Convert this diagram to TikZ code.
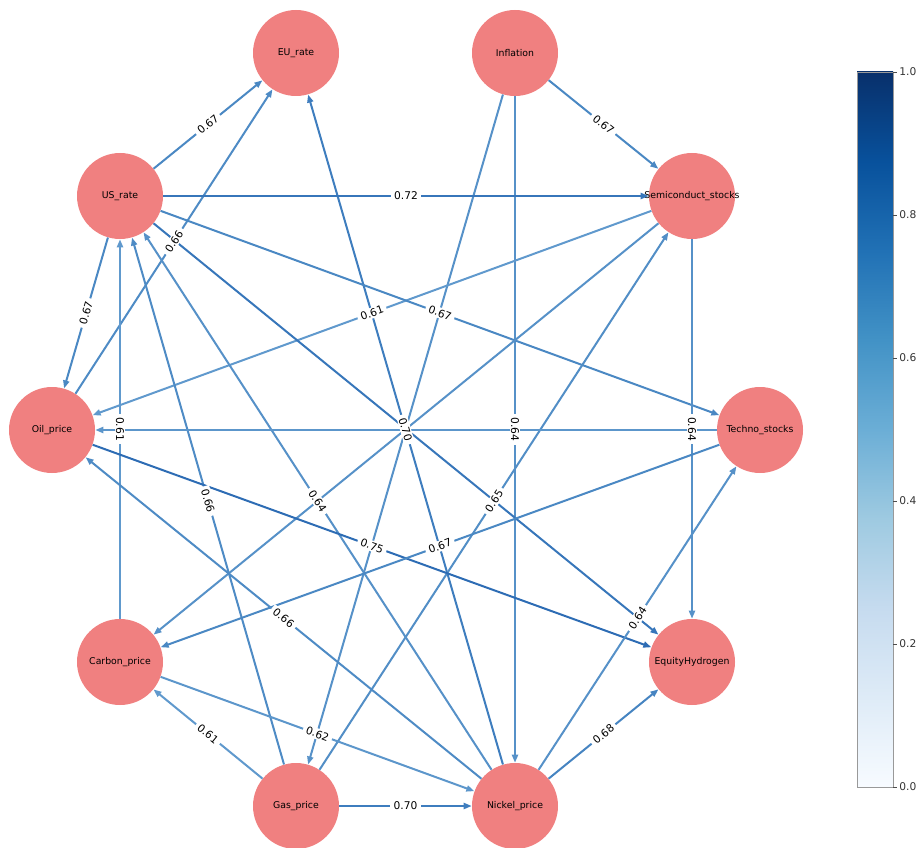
\documentclass[tikz,border=0pt]{standalone}
\usepackage{fontspec}
\setmainfont{DejaVu Sans}
\usepackage{xcolor}
\usepackage{tikz}
\usetikzlibrary{arrows.meta}
\definecolor{nodecol}{RGB}{240,128,128}
\definecolor{c61}{RGB}{96,153,205}
\definecolor{c62}{RGB}{92,150,203}
\definecolor{c64}{RGB}{86,145,200}
\definecolor{c65}{RGB}{82,142,198}
\definecolor{c66}{RGB}{78,139,197}
\definecolor{c67}{RGB}{74,136,195}
\definecolor{c68}{RGB}{70,132,193}
\definecolor{c70}{RGB}{62,125,190}
\definecolor{c72}{RGB}{55,118,186}
\definecolor{c75}{RGB}{45,108,180}
\pgfdeclareverticalshading{blues}{100bp}{rgb(0bp)=(0.969,0.984,1.0); rgb(25bp)=(0.969,0.984,1.0); rgb(31.25bp)=(0.871,0.922,0.969); rgb(37.5bp)=(0.776,0.859,0.937); rgb(43.75bp)=(0.620,0.792,0.882); rgb(50bp)=(0.420,0.682,0.839); rgb(56.25bp)=(0.259,0.573,0.776); rgb(62.5bp)=(0.129,0.443,0.710); rgb(68.75bp)=(0.031,0.318,0.612); rgb(75bp)=(0.031,0.188,0.420); rgb(100bp)=(0.031,0.188,0.420)}
\tikzstyle{var} = [circle, fill=nodecol, minimum size=64.5pt, inner sep=0pt]
\tikzstyle{varname} = [font=\fontsize{7}{8}\selectfont, text=black]
\tikzstyle{arrow} = [line width=1.5pt, -{Triangle[length=6pt,width=4.5pt]}]
\tikzstyle{weight} = [midway, sloped, fill=white, inner xsep=2.5pt, inner ysep=1pt, font=\fontsize{8}{9}\selectfont]

\begin{document}
\begin{tikzpicture}[x=0.75pt, y=-0.75pt]
    \useasboundingbox (0,0) rectangle (916,848);

    % variables on the circle
    \node[var, label={[varname]center:EU\_rate}] (eu) at (296,53) {};
    \node[var, label={[varname]center:Inflation}] (infl) at (515,53) {};
    \node[var, label={[varname]center:US\_rate}] (us) at (120,196) {};
    \node[var, label={[varname]center:Semiconduct\_stocks}] (semi) at (692,196) {};
    \node[var, label={[varname]center:Oil\_price}] (oil) at (52,430) {};
    \node[var, label={[varname]center:Techno\_stocks}] (techno) at (760,430) {};
    \node[var, label={[varname]center:Carbon\_price}] (carbon) at (120,662) {};
    \node[var, label={[varname]center:EquityHydrogen}] (hydro) at (692,662) {};
    \node[var, label={[varname]center:Gas\_price}] (gas) at (296,806) {};
    \node[var, label={[varname]center:Nickel\_price}] (nickel) at (515,806) {};

    % edges
    \draw[arrow, c67] (us) -- (eu);
    \draw[arrow, c66] (oil) -- (eu);
    \draw[arrow, c70] (nickel) -- (eu);
    \draw[arrow, c67] (infl) -- (semi);
    \draw[arrow, c64] (infl) -- (nickel);
    \draw[arrow, c64] (infl) -- (gas);
    \draw[arrow, c72] (us) -- (semi);
    \draw[arrow, c61] (semi) -- (oil);
    \draw[arrow, c67] (us) -- (techno);
    \draw[arrow, c64] (semi) -- (hydro);
    \draw[arrow, c64] (semi) -- (carbon);
    \draw[arrow, c65] (gas) -- (semi);
    \draw[arrow, c67] (us) -- (oil);
    \draw[arrow, c61] (carbon) -- (us);
    \draw[arrow, c66] (gas) -- (us);
    \draw[arrow, c64] (nickel) -- (us);
    \draw[arrow, c72] (us) -- (hydro);
    \draw[arrow, c75] (oil) -- (hydro);
    \draw[arrow, c67] (techno) -- (carbon);
    \draw[arrow, c66] (nickel) -- (oil);
    \draw[arrow, c62] (carbon) -- (nickel);
    \draw[arrow, c61] (gas) -- (carbon);
    \draw[arrow, c70] (gas) -- (nickel);
    \draw[arrow, c68] (nickel) -- (hydro);
    \draw[arrow, c64] (nickel) -- (techno);
    \draw[arrow, c62] (techno) -- (oil);

    % weights
    \path (us) -- node[weight] (w1) {0.67} (eu);
    \path (oil) -- node[weight] (w2) {0.66} (eu);
    \path (infl) -- node[weight] (w4) {0.67} (semi);
    \path (infl) -- node[weight] (w5) {0.64} (nickel);
    \path (us) -- node[weight] (w7) {0.72} (semi);
    \path (semi) -- node[weight] (w8) {0.61} (oil);
    \path (us) -- node[weight] (w9) {0.67} (techno);
    \path (semi) -- node[weight] (w10) {0.64} (hydro);
    \path (gas) -- node[weight] (w12) {0.65} (semi);
    \path (us) -- node[weight] (w13) {0.67} (oil);
    \path (us) -- node[weight] (w14) {0.61} (carbon);
    \path (gas) -- node[weight] (w15) {0.66} (us);
    \path (nickel) -- node[weight] (w16) {0.64} (us);
    \path (oil) -- node[weight] (w18) {0.75} (hydro);
    \path (techno) -- node[weight] (w19) {0.67} (carbon);
    \path (nickel) -- node[weight] (w20) {0.66} (oil);
    \path (carbon) -- node[weight] (w21) {0.62} (nickel);
    \path (gas) -- node[weight] (w22) {0.61} (carbon);
    \path (gas) -- node[weight] (w23) {0.70} (nickel);
    \path (nickel) -- node[weight] (w24) {0.68} (hydro);
    \path (nickel) -- node[weight] (w25) {0.64} (techno);
    \path (eu) -- node[weight] (w3) {0.70} (nickel);

    % colour bar
    \shade[shading=blues] (857,72) rectangle (893,787);
    \draw[gray!80, line width=0.6pt] (857,72) rectangle (893,787);
    \foreach \v/\y in {0.0/787, 0.2/644, 0.4/501, 0.6/358, 0.8/215, 1.0/72} {
        \draw[black!70, line width=0.5pt] (893,\y) -- (897,\y) node[right, inner sep=1.5pt, font=\fontsize{8}{9}\selectfont, text=black!80] (tick\y) {\v};
    }
\end{tikzpicture}
\end{document}
